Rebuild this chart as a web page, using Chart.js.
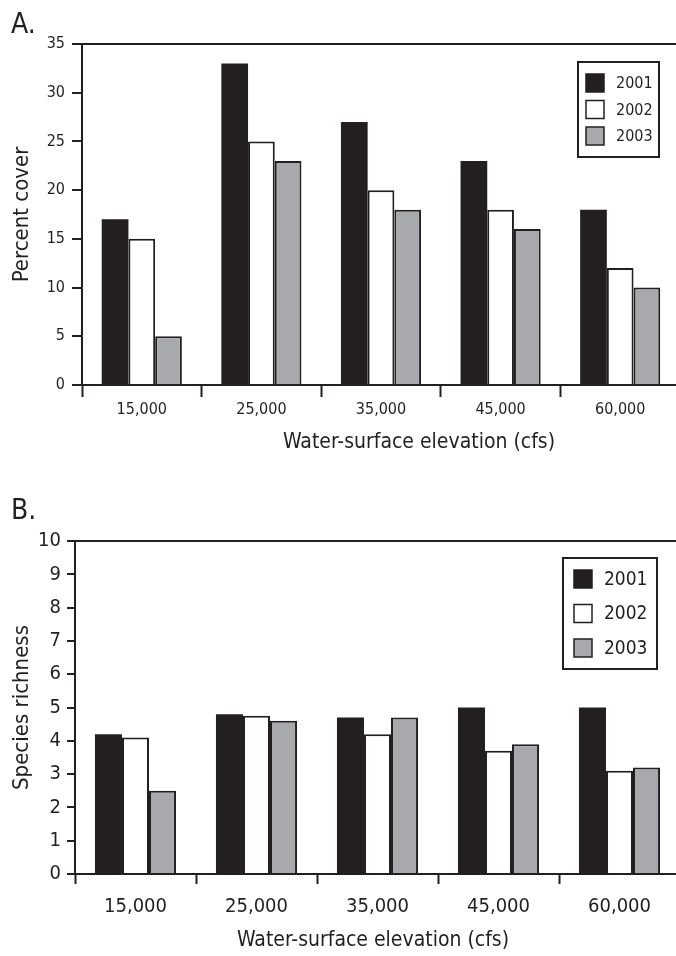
<!DOCTYPE html>
<html>
<head>
<meta charset="utf-8">
<script src="https://cdn.jsdelivr.net/npm/chart.js@4.4.0/dist/chart.umd.min.js"></script>
<style>
  html, body { margin: 0; padding: 0; background: #fff; overflow: hidden; }
  .panel { position: relative; width: 680px; }
  #panelA { height: 460px; }
  #panelB { height: 496px; }
</style>
</head>
<body>
<div class="panel" id="panelA"><canvas id="chartA"></canvas></div>
<div class="panel" id="panelB"><canvas id="chartB"></canvas></div>
<script>
// categories and series
const elevations = ["15,000", "25,000", "35,000", "45,000", "60,000"];
const years = ["2001", "2002", "2003"];

// A. percent cover
const cover2001 = [17, 33, 27, 23, 18];
const cover2002 = [15, 25, 20, 18, 12];
const cover2003 = [5, 23, 18, 16, 10];
const coverTicks = [0, 5, 10, 15, 20, 25, 30, 35];

// B. species richness
const rich2001 = [4.2, 4.8, 4.7, 5.0, 5.0];
const rich2002 = [4.1, 4.75, 4.2, 3.7, 3.1];
const rich2003 = [2.5, 4.6, 4.7, 3.9, 3.2];
const richTicks = [0, 1, 2, 3, 4, 5, 6, 7, 8, 9, 10];

const INK = "#231f20";
const fills = ["#231f20", "#ffffff", "#a7a9ac"];
const FONT = "'DejaVu Sans Condensed', 'Liberation Sans', sans-serif";

Chart.defaults.font.family = FONT;
Chart.defaults.color = INK;

function makeDatasets(series) {
  return years.map((year, i) => ({
    label: year,
    data: series[i],
    backgroundColor: fills[i],
    borderColor: INK,
    borderWidth: i === 0 ? 0 : 2,
    borderSkipped: "bottom",
    categoryPercentage: 0.67,
    barPercentage: 1.0,
  }));
}

// panel letter, x title and boxed legend
const panelText = {
  id: "panelText",
  afterDraw(chart, args, opts) {
    const ctx = chart.ctx;
    ctx.save();
    ctx.fillStyle = INK;
    ctx.textAlign = "left";
    ctx.textBaseline = "alphabetic";
    ctx.font = `28px ${FONT}`;
    ctx.fillText(opts.letter, opts.letterX, opts.letterY);

    ctx.textAlign = "center";
    ctx.textBaseline = "middle";
    ctx.font = `${opts.titleSize}px ${FONT}`;
    ctx.fillText(opts.xTitle, opts.titleX, opts.titleY);

    const lg = opts.legend;
    ctx.lineWidth = 2;
    ctx.strokeStyle = INK;
    ctx.fillStyle = "#fff";
    ctx.fillRect(lg.x, lg.y, lg.w, lg.h);
    ctx.strokeRect(lg.x, lg.y, lg.w, lg.h);
    ctx.lineWidth = 1.5;
    chart.data.datasets.forEach((ds, i) => {
      const cy = lg.y + lg.first + i * lg.step;
      ctx.fillStyle = ds.backgroundColor;
      ctx.fillRect(lg.x + lg.pad, cy - lg.box / 2, lg.box, lg.box);
      ctx.strokeRect(lg.x + lg.pad, cy - lg.box / 2, lg.box, lg.box);
      ctx.fillStyle = INK;
      ctx.textAlign = "left";
      ctx.font = `${lg.size}px ${FONT}`;
      ctx.fillText(ds.label, lg.x + lg.textX, cy + 1);
    });
    ctx.restore();
  },
};

function makeChart(id, series, ticks, cfg) {
  const top = ticks[ticks.length - 1];
  return new Chart(document.getElementById(id), {
    type: "bar",
    data: { labels: elevations, datasets: makeDatasets(series) },
    options: {
      responsive: true,
      maintainAspectRatio: false,
      devicePixelRatio: 1,
      animation: false,
      layout: { padding: { top: cfg.padTop, left: 0, right: 0, bottom: 0 } },
      plugins: {
        legend: { display: false },
        tooltip: { enabled: false },
        panelText: cfg.text,
      },
      scales: {
        x: {
          grid: {
            offset: true,
            drawOnChartArea: false,
            tickLength: cfg.xTick,
            tickWidth: 2,
            tickColor: INK,
          },
          border: { color: INK, width: 2 },
          ticks: { font: { size: cfg.tickSize }, color: INK, padding: cfg.xPad, maxRotation: 0 },
          afterFit: (s) => { s.height = cfg.xHeight; },
        },
        y: {
          min: 0,
          max: top,
          afterBuildTicks: (s) => { s.ticks = ticks.map((v) => ({ value: v })); },
          grid: {
            color: (c) => (c.tick && c.tick.value === top ? INK : "transparent"),
            lineWidth: 2,
            tickLength: cfg.yTick,
            tickWidth: 2,
            tickColor: INK,
          },
          border: { color: INK, width: 2 },
          ticks: { font: { size: cfg.tickSize }, color: INK, padding: cfg.yPad },
          title: {
            display: true,
            text: cfg.yTitle,
            color: INK,
            font: { size: 22 },
            padding: { top: 9, bottom: 0 },
          },
          afterFit: (s) => { s.width = cfg.yWidth; },
        },
      },
    },
    plugins: [panelText],
  });
}

makeChart("chartA", [cover2001, cover2002, cover2003], coverTicks, {
  padTop: 44, xHeight: 75, yWidth: 82, xTick: 12, yTick: 10, xPad: 3, yPad: 7,
  tickSize: 16, yTitle: "Percent cover",
  text: {
    letter: "A.", letterX: 11, letterY: 33,
    xTitle: "Water-surface elevation (cfs)", titleSize: 21, titleX: 419, titleY: 443,
    legend: { x: 578, y: 62, w: 81, h: 95, pad: 8, box: 18, first: 21, step: 26.5, textX: 38, size: 16 },
  },
});

makeChart("chartB", [rich2001, rich2002, rich2003], richTicks, {
  padTop: 81, xHeight: 82, yWidth: 75, xTick: 10, yTick: 8, xPad: 11, yPad: 6,
  tickSize: 20, yTitle: "Species richness",
  text: {
    letter: "B.", letterX: 11, letterY: 59,
    xTitle: "Water-surface elevation (cfs)", titleSize: 21, titleX: 373, titleY: 481,
    legend: { x: 563, y: 98, w: 94, h: 111, pad: 11, box: 18, first: 21, step: 34.5, textX: 41, size: 19 },
  },
});
</script>
</body>
</html>
